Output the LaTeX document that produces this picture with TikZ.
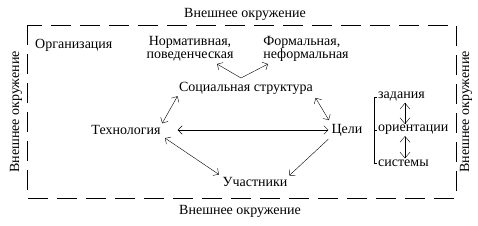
\documentclass[tikz,border=0pt]{standalone}
\usepackage{fontspec}
\setmainfont{Liberation Serif}
\usepackage{tikz}
\usetikzlibrary{arrows.meta,positioning,calc}

\begin{document}
\begin{tikzpicture}[
  x=1pt, y=-1pt,
  txt/.style={inner sep=1pt, font=\fontsize{14}{13.5}\selectfont, align=center},
  ltxt/.style={txt, align=left},
  arr/.style={-{Straight Barb[angle=90:6pt]}},
  darr/.style={{Straight Barb[angle=90:6pt]}-{Straight Barb[angle=90:6pt]}},
  varr/.style={{Straight Barb[length=6pt, width=10pt]}-{Straight Barb[length=6pt, width=10pt]}},
  env/.style={dash pattern=on 20pt off 9pt}
]
  \useasboundingbox (0,0) rectangle (478,225);
  % environment frame
  \draw[env] (27,25) rectangle (456,198);
  \node[txt] (envtop) at (245,14) {Внешнее окружение};
  \node[txt] (envbot) at (240,211) {Внешнее окружение};
  \node[txt, rotate=90] (envleft) at (16,112) {Внешнее окружение};
  \node[txt, rotate=90] (envright) at (466,112) {Внешнее окружение};

  \node[ltxt, anchor=west] (org) at (34,45) {Организация};
  \node[txt] (norm) at (190,49) {Нормативная,\\поведенческая};
  \node[ltxt] (form) at (306,49) {Формальная,\\неформальная};
  \node[txt] (soc) at (246,88) {Социальная структура};
  \node[txt] (tech) at (126,130) {Технология};
  \node[txt] (goal) at (347,130) {Цели};
  \node[txt] (uch) at (255,182) {Участники};
  \node[ltxt, anchor=west] (zad) at (377,97) {задания};
  \node[ltxt, anchor=west] (ori) at (377,130) {ориентации};
  \node[ltxt, anchor=west] (sys) at (377,163) {системы};
  \coordinate (fork) at (241,78);

  \draw[arr] (fork) -- (217,64);
  \draw[arr] (fork) -- (268,64);
  \draw[darr, shorten <=1pt, shorten >=1pt] (tech.north east) -- (soc.south west);
  \draw[darr, shorten <=3pt, shorten >=3pt] (soc.south east) -- (goal.north west);
  \draw[darr, shorten <=16pt, shorten >=2pt] (tech.east) -- (goal.west);
  \draw[darr, shorten <=4pt, shorten >=3pt] (tech.south east) -- (uch.north west);
  \draw[arr, shorten <=3pt, shorten >=1pt] (goal.south west) -- (uch.north east);

  % goal bracket
  \draw (zad.west) -- ++(-3,0) |- (sys.west);
  \draw (ori.west) -- ++(-3,0);
  \draw[varr] (zad.south -| 405,0) -- (ori.north -| 405,0);
  \draw[varr] (ori.south -| 405,0) -- (sys.north -| 405,0);
\end{tikzpicture}
\end{document}
